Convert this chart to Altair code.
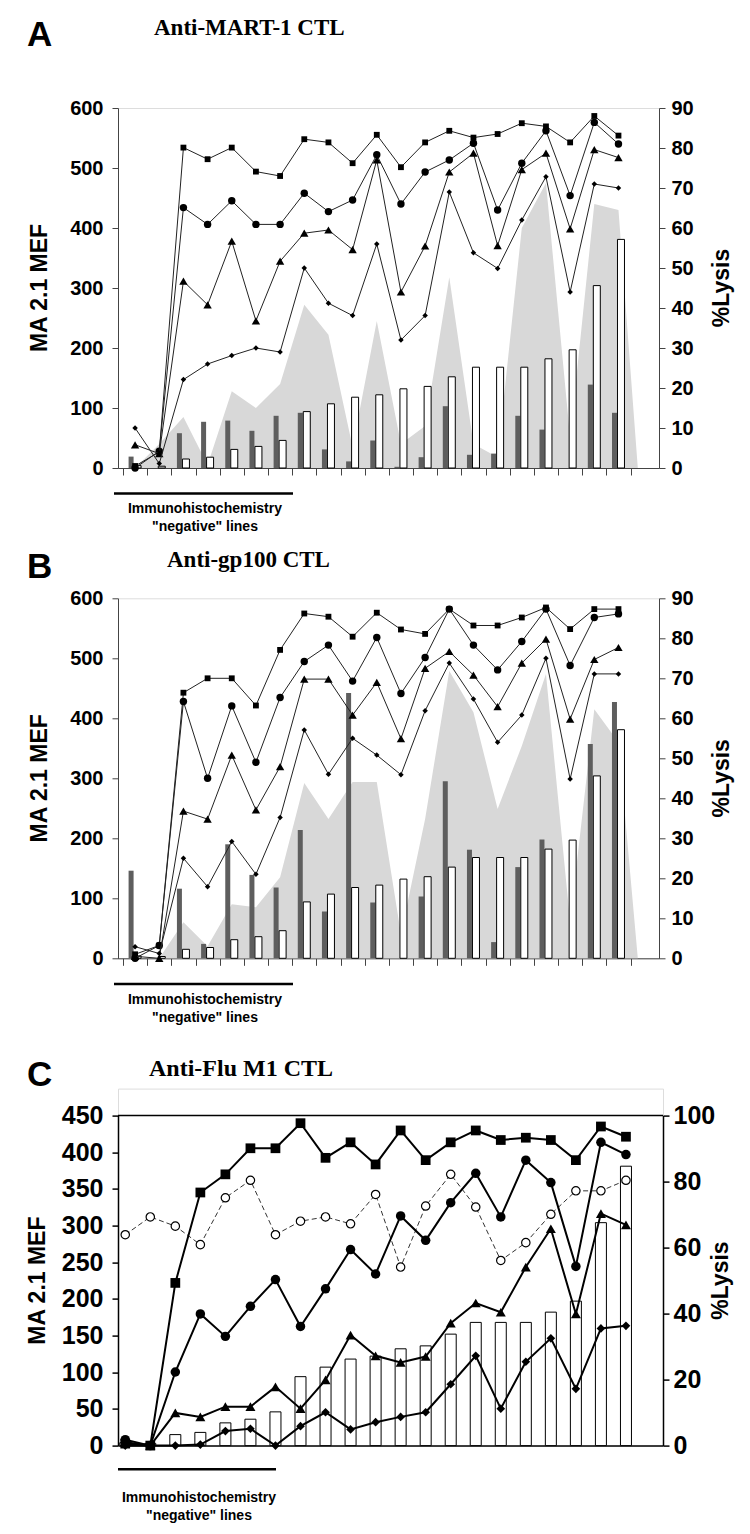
import altair as alt
import pandas as pd

# ---------------- data ----------------
cats = list(range(1, 22))
mef_white = [4, 3, 15, 18, 31, 36, 46, 94, 107, 118, 122, 132, 136, 152, 168, 168, 168, 182, 197, 304, 381]
dark_A = [19, 0, 58, 77, 79, 62, 87, 92, 31, 11, 46, 2, 18, 103, 22, 24, 87, 64, 0, 139, 92]
dark_B = [146, 0, 116, 24, 190, 139, 118, 214, 78, 442, 93, 0, 103, 295, 181, 27, 152, 198, 0, 357, 427]

area_x = cats + [21.8]
area_A = [0, 40, 85, 5, 128, 100, 140, 272, 222, 35, 245, 40, 70, 318, 40, 18, 400, 475, 50, 440, 430, 0]
area_B = [0, 0, 60, 20, 90, 85, 135, 292, 232, 294, 294, 40, 232, 479, 410, 249, 354, 474, 60, 415, 360, 0]

sq_A = [0.5, 4, 80.1, 77.2, 80.1, 74.1, 73.0, 82.2, 81.4, 76.2, 83.3, 75.2, 81.4, 84.3, 82.6, 83.5, 86.2, 85.4, 81.4, 88.0, 83.1]
ci_A = [0, 4.2, 65.1, 60.9, 66.8, 60.9, 60.9, 68.7, 64.1, 67.0, 78.3, 66.0, 74.0, 77.0, 81.2, 64.5, 76.2, 84.3, 68.1, 86.4, 81.0]
tr_A = [5.8, 3.6, 46.7, 40.8, 56.7, 36.8, 51.7, 58.7, 59.5, 54.6, 77.0, 44.0, 55.5, 74.0, 78.7, 55.6, 74.6, 78.7, 59.8, 79.6, 77.6]
di_A = [10.0, 1.1, 22.1, 26.0, 28.1, 30.0, 29.0, 50.0, 41.2, 38.1, 56.0, 32.0, 38.1, 69.0, 53.8, 49.9, 62.0, 72.8, 44.0, 71.0, 70.0]

sq_B = [1.0, 3.2, 66.4, 70, 70, 63.2, 77.1, 86.2, 85.4, 80.4, 86.4, 82.2, 81.1, 87.3, 83.2, 83.2, 85.2, 87.7, 82.3, 87.3, 87.3]
ci_B = [0, 3.2, 64.2, 45, 63.1, 49, 65.2, 74.2, 78.3, 69.3, 80.2, 66.2, 75.2, 87.3, 78.3, 72.1, 79.2, 87.3, 73.2, 85.2, 86.1]
tr_B = [0.5, 0, 36.8, 34.8, 50.8, 37.1, 47.9, 69.8, 69.8, 60.8, 69.0, 54.9, 72.5, 76.7, 70.8, 62.9, 73.8, 79.8, 59.8, 74.7, 77.7]
di_B = [2.9, 1.2, 25, 17.9, 29.2, 21, 35.2, 57.1, 46, 55, 50.8, 45.9, 61.9, 73.8, 64.8, 54, 60.8, 75, 44.8, 71.1, 71.1]

sq_C = [0.6, 0, 49.3, 76.7, 82.2, 90.1, 90.1, 97.7, 87.2, 91.9, 85.2, 95.5, 86.5, 91.9, 95.5, 92.6, 93.3, 92.6, 86.5, 96.7, 93.6]
ci_C = [1.8, 0, 22.3, 39.9, 33.1, 42.2, 50.3, 36.1, 47.5, 59.4, 52.0, 69.6, 62.2, 73.6, 82.5, 69.3, 86.5, 79.7, 54.3, 91.9, 88.2]
tr_C = [1.0, 0, 9.9, 8.7, 11.8, 11.8, 17.8, 11.2, 19.9, 33.5, 27.2, 25.2, 27.0, 37.1, 43.2, 40.4, 54.1, 65.7, 39.9, 70.3, 66.9]
di_C = [0, 0, 0, 0.3, 4.4, 5.1, 0, 5.9, 10.1, 4.9, 7.1, 8.7, 10.1, 18.6, 27.2, 11.2, 25.4, 32.5, 17.2, 35.5, 36.3]
oc_C = [63.9, 69.3, 66.5, 60.9, 75.1, 80.4, 63.9, 68.0, 69.3, 67.2, 76.1, 54.1, 72.6, 82.2, 72.3, 56.1, 61.5, 70.1, 77.2, 77.2, 80.4]

SANS = "Liberation Sans, Arial, sans-serif"
NARROW = "Liberation Sans Narrow, Arial Narrow, Liberation Sans, sans-serif"
SERIF = "Liberation Serif, Times New Roman, serif"


def text_layer(txt, x, y, size, font, weight="bold", angle=0, align="left", baseline="alphabetic"):
    kw = dict(font=font, fontSize=size, fontWeight=weight, align=align, baseline=baseline, color="black")
    if angle:
        kw["angle"] = angle
    return alt.Chart(pd.DataFrame({"t": [txt]})).mark_text(**kw).encode(
        text="t:N", x=alt.value(x), y=alt.value(y))


def hline(x1, x2, y, w=2.5):
    return alt.Chart(pd.DataFrame({"a": [0]})).mark_rule(color="black", strokeWidth=w).encode(
        x=alt.value(x1), x2=alt.value(x2), y=alt.value(y))


def series(vals, shape, size, xs, xax, ys, yax, lw, lc, open_marker=False, dash=None):
    df = pd.DataFrame({"cat": cats, "v": vals})
    base = alt.Chart(df).encode(x=alt.X("cat:Q", scale=xs, axis=xax),
                                y=alt.Y("v:Q", scale=ys, axis=yax))
    lkw = dict(color=lc, strokeWidth=lw)
    if dash:
        lkw["strokeDash"] = dash
    ln = base.mark_line(**lkw)
    if open_marker:
        pt = base.mark_point(shape=shape, size=size, filled=True, fill="white", stroke="black",
                             strokeWidth=1.2, opacity=1)
    else:
        pt = base.mark_point(shape=shape, size=size, filled=True, color="black", opacity=1)
    return [ln, pt]


W_AB, H_AB = 541, 360


def ab_panel(letter, title, title_x, letter_y, title_y, dark, area_vals, sq, ci, tr, di):
    xs = alt.Scale(domain=[0.5, 22.47], nice=False, zero=False)
    xax = alt.Axis(values=[k + 0.5 for k in range(22)], labels=False, ticks=True, tickSize=7,
                   domain=True, grid=False, title=None, domainColor="#444", tickColor="#444")
    ys = alt.Scale(domain=[0, 600], nice=False, zero=True)
    yax = alt.Axis(orient="left", values=list(range(0, 601, 100)), grid=False, title=None, tickSize=6,
                   labelPadding=9, labelFont=SANS, labelFontSize=20, labelFontWeight="bold",
                   labelColor="black", domainColor="#444", tickColor="#444")
    rs = alt.Scale(domain=[0, 90], nice=False, zero=True)
    rax = alt.Axis(orient="right", values=list(range(0, 91, 10)), grid=False, title=None, tickSize=6,
                   labelPadding=6, labelFont=SANS, labelFontSize=20, labelFontWeight="bold",
                   labelColor="black", domainColor="#444", tickColor="#444")

    adf = pd.DataFrame({"x": area_x, "v": area_vals})
    bdf = pd.DataFrame({"cat": cats, "dark": dark, "white": mef_white})
    area = alt.Chart(adf).mark_area(color="#d8d8d8", opacity=1).encode(
        x=alt.X("x:Q", scale=xs, axis=xax), y=alt.Y("v:Q", scale=ys, axis=yax))
    dbar = alt.Chart(bdf).mark_bar(color="#5e5e5e", width=5, xOffset=-4).encode(
        x=alt.X("cat:Q", scale=xs, axis=xax), y=alt.Y("dark:Q", scale=ys, axis=yax))
    wbar = alt.Chart(bdf).mark_bar(fill="white", stroke="black", strokeWidth=1, width=7,
                                   xOffset=2.5).encode(
        x=alt.X("cat:Q", scale=xs, axis=xax), y=alt.Y("white:Q", scale=ys, axis=yax))
    left = alt.layer(area, dbar, wbar)

    lines = []
    lines += series(sq, "square", 34, xs, xax, rs, rax, 1, "#222")
    lines += series(ci, "circle", 55, xs, xax, rs, rax, 1, "#222")
    lines += series(tr, "triangle-up", 70, xs, xax, rs, rax, 1, "#222")
    lines += series(di, "diamond", 30, xs, xax, rs, rax, 1, "#222")
    right = alt.layer(*lines)

    ann = [
        text_layer(letter, -91, letter_y, 35, SANS),
        text_layer(title, title_x, title_y, 23, SERIF),
        text_layer("MA 2.1 MEF", -78, H_AB / 2, 23, SANS, angle=270, align="center", baseline="middle"),
        text_layer("%Lysis", 604, H_AB / 2, 23, SANS, angle=270, align="center", baseline="middle"),
        hline(-4, 175, 385.6),
        text_layer("Immunohistochemistry", 87, 405.3, 14, NARROW, align="center"),
        text_layer('"negative" lines', 87, 423.3, 14, NARROW, align="center"),
    ]
    return alt.layer(left, right, *ann).resolve_scale(y="independent").properties(
        width=W_AB, height=H_AB)


W_C, H_C = 545, 357


def c_panel():
    xs = alt.Scale(domain=[0.91, 22.28], nice=False, zero=False)
    xax = alt.Axis(labels=False, ticks=False, domain=True, grid=False, title=None,
                   domainColor="black", domainWidth=1.5)
    ys = alt.Scale(domain=[0, 450], nice=False, zero=True, range=[357, 27])
    yax = alt.Axis(orient="left", values=list(range(0, 451, 50)), grid=False, title=None, tickSize=6,
                   labelPadding=9, labelFont=NARROW, labelFontSize=25, labelFontWeight="bold",
                   labelColor="black", domainColor="black", domainWidth=1.5, tickColor="black",
                   tickWidth=1.5)
    rs = alt.Scale(domain=[0, 100], nice=False, zero=True, range=[357, 27])
    rax = alt.Axis(orient="right", values=list(range(0, 101, 20)), grid=False, title=None, tickSize=6,
                   labelPadding=4, labelFont=NARROW, labelFontSize=25, labelFontWeight="bold",
                   labelColor="black", domainColor="black", domainWidth=1.5, tickColor="black",
                   tickWidth=1.5)

    bdf = pd.DataFrame({"cat": cats, "white": mef_white})
    wbar = alt.Chart(bdf).mark_bar(fill="white", stroke="black", strokeWidth=1, width=11).encode(
        x=alt.X("cat:Q", scale=xs, axis=xax), y=alt.Y("white:Q", scale=ys, axis=yax))
    top = alt.Chart(pd.DataFrame({"a": [0]})).mark_rule(color="black", strokeWidth=1.5).encode(
        y=alt.Y(datum=450, scale=ys, axis=yax), x=alt.value(0), x2=alt.value(W_C))
    left = alt.layer(wbar, top)

    lines = []
    lines += series(oc_C, "circle", 70, xs, xax, rs, rax, 1, "#333", open_marker=True, dash=[5, 3])
    lines += series(sq_C, "square", 95, xs, xax, rs, rax, 2, "black")
    lines += series(ci_C, "circle", 90, xs, xax, rs, rax, 2, "black")
    lines += series(tr_C, "triangle-up", 100, xs, xax, rs, rax, 2, "black")
    lines += series(di_C, "diamond", 75, xs, xax, rs, rax, 2, "black")
    right = alt.layer(*lines)

    ann = [
        text_layer("C", -91, -2.3, 35, SANS),
        text_layer("Anti-Flu M1 CTL", 31, -13, 24, SERIF),
        text_layer("MA 2.1 MEF", -80, 192, 23, SANS, angle=270, align="center", baseline="middle"),
        text_layer("%Lysis", 603, 192, 23, SANS, angle=270, align="center", baseline="middle"),
        hline(0, 158, 380.7),
        text_layer("Immunohistochemistry", 81, 413.7, 14, NARROW, align="center"),
        text_layer('"negative" lines', 81, 431.7, 14, NARROW, align="center"),
    ]
    return alt.layer(left, right, *ann).resolve_scale(y="independent").properties(
        width=W_C, height=H_C)


pA = ab_panel("A", "Anti-MART-1 CTL", 36, -61.7, -73.4, dark_A, area_A, sq_A, ci_A, tr_A, di_A)
pB = ab_panel("B", "Anti-gp100 CTL", 49, -20, -31, dark_B, area_B, sq_B, ci_B, tr_B, di_B)
pC = c_panel()

chart = alt.vconcat(pA, pB, pC, spacing=130.3, bounds="flush").properties(
    padding={"left": 18, "top": 8, "right": 0, "bottom": 0}
).configure_view(stroke=None).configure(background="white")

chart.save("out.html", embed_options={"renderer": "svg", "actions": False})
